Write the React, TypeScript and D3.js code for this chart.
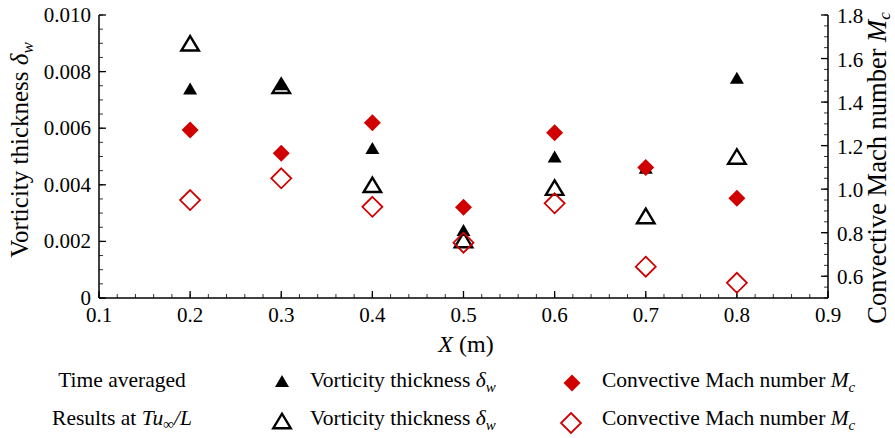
import React from "react";
import * as d3 from "d3";

const xPositions = [0.2, 0.3, 0.4, 0.5, 0.6, 0.7, 0.8];
const vortAvg = [0.0074, 0.00755, 0.0053, 0.0024, 0.005, 0.0046, 0.00778];
const vortInst = [0.009, 0.0075, 0.004, 0.00205, 0.0039, 0.0029, 0.005];
const machAvg = [1.272, 1.165, 1.305, 0.917, 1.259, 1.099, 0.958];
const machInst = [0.95, 1.05, 0.919, 0.754, 0.935, 0.644, 0.57];

const xTicks = [0.1, 0.2, 0.3, 0.4, 0.5, 0.6, 0.7, 0.8, 0.9];
const leftTicks = [0, 0.002, 0.004, 0.006, 0.008, 0.01];
const rightTicks = [0.6, 0.8, 1.0, 1.2, 1.4, 1.6, 1.8];

const FONT = "'Liberation Serif', 'Times New Roman', serif";
const RED = "#d10000";

const W = 895;
const H = 438;
const L = 99, R = 828, T = 15, B = 298;

const x = d3.scaleLinear().domain([0.1, 0.9]).range([L, R]);
const yL = d3.scaleLinear().domain([0, 0.01]).range([B, T]);
const yR = d3.scaleLinear().domain([0.5, 1.8]).range([B, T]);

const xMinor = d3.range(0.1, 0.9001, 0.02);
const lMinor = d3.range(0, 0.01001, 0.0005);
const rMinor = d3.range(0.5, 1.8001, 0.05);

function tri(cx: number, cy: number, w: number, h: number) {
  const p = d3.path();
  p.moveTo(cx - w / 2, cy + h / 2);
  p.lineTo(cx + w / 2, cy + h / 2);
  p.lineTo(cx, cy - h / 2);
  p.closePath();
  return p.toString();
}
function dia(cx: number, cy: number, w: number, h: number) {
  const p = d3.path();
  p.moveTo(cx, cy - h / 2);
  p.lineTo(cx + w / 2, cy);
  p.lineTo(cx, cy + h / 2);
  p.lineTo(cx - w / 2, cy);
  p.closePath();
  return p.toString();
}

const filledTri = (cx: number, cy: number) => <path d={tri(cx, cy, 14, 12)} fill="#000" />;
const hollowTri = (cx: number, cy: number) => (
  <path d={tri(cx, cy, 17.5, 14.5)} fill="none" stroke="#000" strokeWidth={2.4} strokeLinejoin="miter" />
);
const filledDia = (cx: number, cy: number) => <path d={dia(cx, cy, 17, 17)} fill={RED} />;
const hollowDia = (cx: number, cy: number) => (
  <path d={dia(cx, cy, 20, 20)} fill="none" stroke={RED} strokeWidth={1.8} />
);

export default function App() {
  const fmtL = (v: number) => (v === 0 ? "0" : d3.format(".3f")(v));
  const fmtR = d3.format(".1f");
  return (
    <svg width={W} height={H} style={{ position: "absolute", left: 0, top: 0, background: "#fff" }} fontFamily={FONT}>
      <rect x={0} y={0} width={W} height={H} fill="#fff" />
      {/* axes lines */}
      <g stroke="#000" strokeWidth={1.5} fill="none">
        <line x1={L} y1={T} x2={L} y2={B} />
        <line x1={L} y1={B} x2={R} y2={B} />
        <line x1={R} y1={T} x2={R} y2={B} />
      </g>
      {/* minor ticks */}
      <g stroke="#000" strokeWidth={0.8}>
        {xMinor.map((v, i) => (
          <line key={"xm" + i} x1={x(v)} x2={x(v)} y1={B} y2={B - 4} />
        ))}
        {lMinor.map((v, i) => (
          <line key={"lm" + i} x1={L} x2={L + 4} y1={yL(v)} y2={yL(v)} />
        ))}
        {rMinor.map((v, i) => (
          <line key={"rm" + i} x1={R} x2={R - 4} y1={yR(v)} y2={yR(v)} />
        ))}
      </g>
      {/* major ticks */}
      <g stroke="#000" strokeWidth={1.3}>
        {xTicks.map((v, i) => (
          <line key={"xM" + i} x1={x(v)} x2={x(v)} y1={B} y2={B - 7} />
        ))}
        {leftTicks.map((v, i) => (
          <line key={"lM" + i} x1={L} x2={L + 7} y1={yL(v)} y2={yL(v)} />
        ))}
        {rightTicks.map((v, i) => (
          <line key={"rM" + i} x1={R} x2={R - 7} y1={yR(v)} y2={yR(v)} />
        ))}
      </g>
      {/* tick labels */}
      <g fontSize={21} fill="#000">
        {xTicks.map((v, i) => (
          <text key={"xl" + i} x={x(v)} y={B + 24} textAnchor="middle">
            {fmtR(v)}
          </text>
        ))}
        {leftTicks.map((v, i) => (
          <text key={"ll" + i} x={L - 8} y={yL(v) + 7} textAnchor="end">
            {fmtL(v)}
          </text>
        ))}
        {rightTicks.map((v, i) => (
          <text key={"rl" + i} x={R + 9} y={yR(v) + 8} textAnchor="start">
            {fmtR(v)}
          </text>
        ))}
      </g>
      {/* axis titles */}
      <text x={466} y={352} fontSize={24} textAnchor="middle">
        <tspan fontStyle="italic">X</tspan> (m)
      </text>
      <text transform="translate(28,150) rotate(-90)" fontSize={25} textAnchor="middle">
        Vorticity thickness <tspan fontStyle="italic">δ</tspan>
        <tspan fontStyle="italic" fontSize={17} dy={5}>w</tspan>
      </text>
      <text transform="translate(886,168) rotate(-90)" fontSize={26.5} textAnchor="middle">
        Convective Mach number <tspan fontStyle="italic">M</tspan>
        <tspan fontStyle="italic" fontSize={17} dy={4}>c</tspan>
      </text>
      {/* data */}
      <g>
        {xPositions.map((v, i) => <g key={"fa" + i}>{filledTri(x(v), yL(vortAvg[i]))}</g>)}
        {xPositions.map((v, i) => <g key={"ha" + i}>{hollowTri(x(v), yL(vortInst[i]))}</g>)}
        {xPositions.map((v, i) => <g key={"fd" + i}>{filledDia(x(v), yR(machAvg[i]))}</g>)}
        {xPositions.map((v, i) => <g key={"hd" + i}>{hollowDia(x(v), yR(machInst[i]))}</g>)}
      </g>
      {/* legend */}
      <g fontSize={21.5} fill="#000">
        <text x={122} y={387} textAnchor="middle">Time averaged</text>
        <text x={122} y={425} textAnchor="middle">
          Results at <tspan fontStyle="italic">Tu</tspan>
          <tspan fontSize={15} dy={4}>∞</tspan>
          <tspan dy={-4} fontStyle="italic">/L</tspan>
        </text>
        {filledTri(282, 381)}
        {hollowTri(282, 421)}
        {filledDia(572, 383)}
        {hollowDia(571, 423)}
        <text x={310} y={387}>
          Vorticity thickness <tspan fontStyle="italic">δ</tspan>
          <tspan fontStyle="italic" fontSize={15} dy={5}>w</tspan>
        </text>
        <text x={310} y={425}>
          Vorticity thickness <tspan fontStyle="italic">δ</tspan>
          <tspan fontStyle="italic" fontSize={15} dy={5}>w</tspan>
        </text>
        <text x={602} y={387}>
          Convective Mach number <tspan fontStyle="italic">M</tspan>
          <tspan fontStyle="italic" fontSize={15} dy={5}>c</tspan>
        </text>
        <text x={602} y={425}>
          Convective Mach number <tspan fontStyle="italic">M</tspan>
          <tspan fontStyle="italic" fontSize={15} dy={5}>c</tspan>
        </text>
      </g>
    </svg>
  );
}
